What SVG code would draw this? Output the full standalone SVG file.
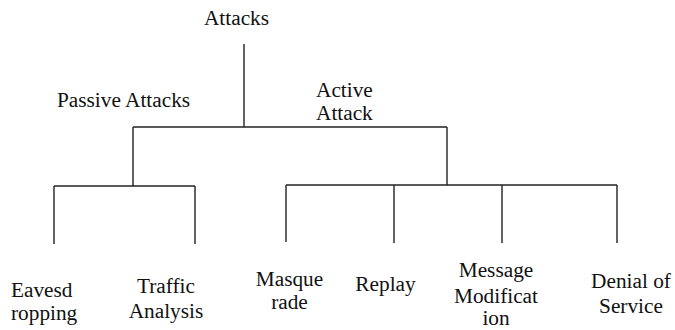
<svg xmlns="http://www.w3.org/2000/svg" width="675" height="330" viewBox="0 0 675 330">
<style>
text{font-family:"Liberation Serif","Times New Roman",serif;font-size:21.3px;fill:#111}
.m{text-anchor:middle}
.c{stroke:#222;stroke-width:1.4;fill:none}
</style>
<rect width="675" height="330" fill="#fff"/>
<g id="connectors" class="c">
<path d="M244 44V127"/>
<path d="M133 127H447"/>
<path d="M133 127V186"/>
<path d="M447 127V185"/>
<path d="M54 186H195"/>
<path d="M54 186V244"/>
<path d="M195 186V244"/>
<path d="M286 185H617"/>
<path d="M286 185V242"/>
<path d="M394 185V243"/>
<path d="M502 185V243"/>
<path d="M617 185V243"/>
</g>
<g id="attacks"><text x="236.5" y="25" class="m">Attacks</text></g>
<g id="passive"><text x="57" y="107">Passive Attacks</text></g>
<g id="active"><text x="316" y="96.5">Active</text><text x="316" y="120">Attack</text></g>
<g id="eavesdropping"><text x="11" y="297">Eavesd</text><text x="11" y="320">ropping</text></g>
<g id="traffic"><text x="166" y="293.3" class="m">Traffic</text><text x="166" y="318" class="m">Analysis</text></g>
<g id="masquerade"><text x="289.5" y="285.7" class="m">Masque</text><text x="289.5" y="309.3" class="m">rade</text></g>
<g id="replay"><text x="385.5" y="291" class="m">Replay</text></g>
<g id="modification"><text x="496" y="277.3" class="m">Message</text><text x="496" y="302.5" class="m">Modificat</text><text x="496" y="325" class="m">ion</text></g>
<g id="dos"><text x="631" y="288.3" class="m">Denial of</text><text x="631" y="313.3" class="m">Service</text></g>
</svg>
